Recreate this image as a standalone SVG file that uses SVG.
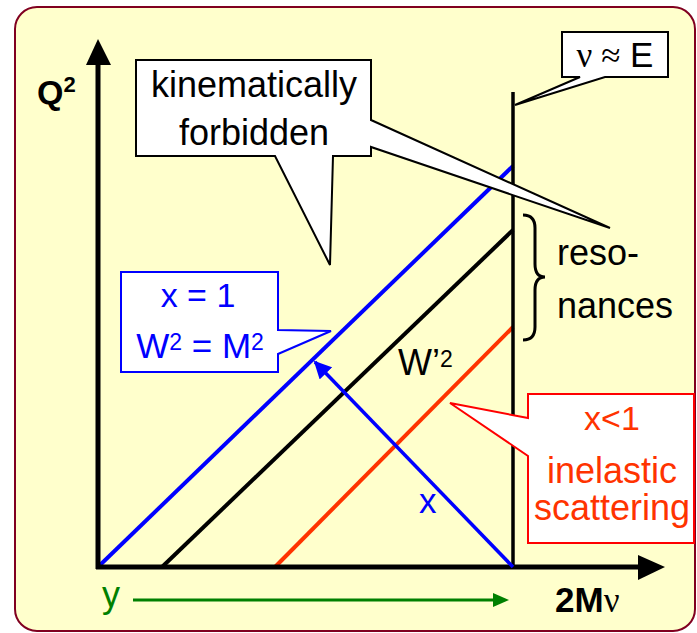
<svg xmlns="http://www.w3.org/2000/svg" width="697" height="633" viewBox="0 0 697 633">
<style>
text{font-family:"Liberation Sans",Arial,sans-serif;}
.t36{font-size:36px;}
.callout{fill:#fff;stroke-width:2;stroke-linejoin:miter;}
.serif{font-family:"Liberation Serif","Times New Roman",serif;}
</style>
<defs>
<marker id="ab" viewBox="0 0 10 10" refX="9" refY="5" markerWidth="5" markerHeight="5" markerUnits="strokeWidth" orient="auto">
<path d="M0,0 L10,5 L0,10 Z" fill="#0000FF"/>
</marker>
</defs>
<rect x="15" y="7" width="680" height="624" rx="22" fill="#FFFFCC" stroke="#800020" stroke-width="2"/>

<g id="lines">
<line x1="98" y1="567" x2="513" y2="166" stroke="#0000FF" stroke-width="4"/>
<line x1="162" y1="567" x2="513" y2="230" stroke="#000" stroke-width="4"/>
<line x1="275" y1="567" x2="513" y2="327" stroke="#FF3300" stroke-width="4"/>
<line x1="513" y1="92" x2="513" y2="567" stroke="#000" stroke-width="3.5"/>
</g>

<g id="axes">
<line x1="98" y1="569" x2="98" y2="60" stroke="#000" stroke-width="5"/>
<polygon points="98,39 86,65 111,65" fill="#000"/>
<line x1="96" y1="567" x2="645" y2="567" stroke="#000" stroke-width="5"/>
<polygon points="665,567 638,555 638,580" fill="#000"/>
</g>

<g id="connectors">
<line x1="513" y1="567" x2="315" y2="362" stroke="#0000FF" stroke-width="3.5" marker-end="url(#ab)"/>
<line x1="133" y1="600" x2="496" y2="600" stroke="#008000" stroke-width="3"/>
<polygon points="509,600 493,593 493,607" fill="#008000"/>
<path d="M523,215 Q535,215 535,228 V264 Q535,277 545,277 Q535,277 535,290 V327 Q535,340 523,340" fill="none" stroke="#000" stroke-width="3"/>
</g>

<g id="forbidden">
<path class="callout" stroke="#000" d="M136,60 H371 V120 L610,228 L371,147 V156 H333 L330,265 L275,156 H136 Z"/>
<text class="t36" x="254" y="97" text-anchor="middle">kinematically</text>
<text class="t36" x="254" y="145" text-anchor="middle">forbidden</text>
</g>

<g id="nuE">
<path class="callout" stroke="#000" d="M562,32 H668 V77 H605 L515,105 L580,77 H562 Z"/>
<text x="615" y="67" font-size="35" text-anchor="middle"><tspan class="serif">ν ≈</tspan> E</text>
</g>

<g id="x1">
<path class="callout" stroke="#0000FF" d="M121,272 H278 V330 L331,331 L278,354 V372 H121 Z"/>
<text x="198" y="307" font-size="34" fill="#0000FF" text-anchor="middle">x = 1</text>
<text x="200" y="358" font-size="35" fill="#0000FF" text-anchor="middle">W<tspan font-size="23" dy="-8">2</tspan><tspan dy="8"> = M</tspan><tspan font-size="23" dy="-8">2</tspan></text>
</g>

<g id="inelastic">
<path class="callout" stroke="#FF0000" d="M528,394 H694 V543 H528 V456 L450,403 L528,418 Z"/>
<text x="612" y="430" font-size="34" fill="#FF3300" text-anchor="middle">x&lt;1</text>
<text x="612" y="483" font-size="36" fill="#FF3300" text-anchor="middle">inelastic</text>
<text x="612" y="520" font-size="36" fill="#FF3300" text-anchor="middle">scattering</text>
</g>

<g id="resonances">
<text class="t36" x="557" y="265">reso-</text>
<text class="t36" x="557" y="318">nances</text>
</g>

<g id="labels">
<text x="37" y="104" font-size="34" font-weight="bold">Q<tspan font-size="22" dy="-12">2</tspan></text>
<text x="555" y="612" font-size="35" font-weight="bold">2M<tspan class="serif" font-weight="normal" font-size="35">ν</tspan></text>
<text x="398" y="375" font-size="36">W’<tspan font-size="23" dy="-8">2</tspan></text>
<text x="419" y="513" font-size="35" fill="#0000FF">x</text>
<text x="102" y="607" font-size="36" fill="#008000">y</text>
</g>
</svg>
